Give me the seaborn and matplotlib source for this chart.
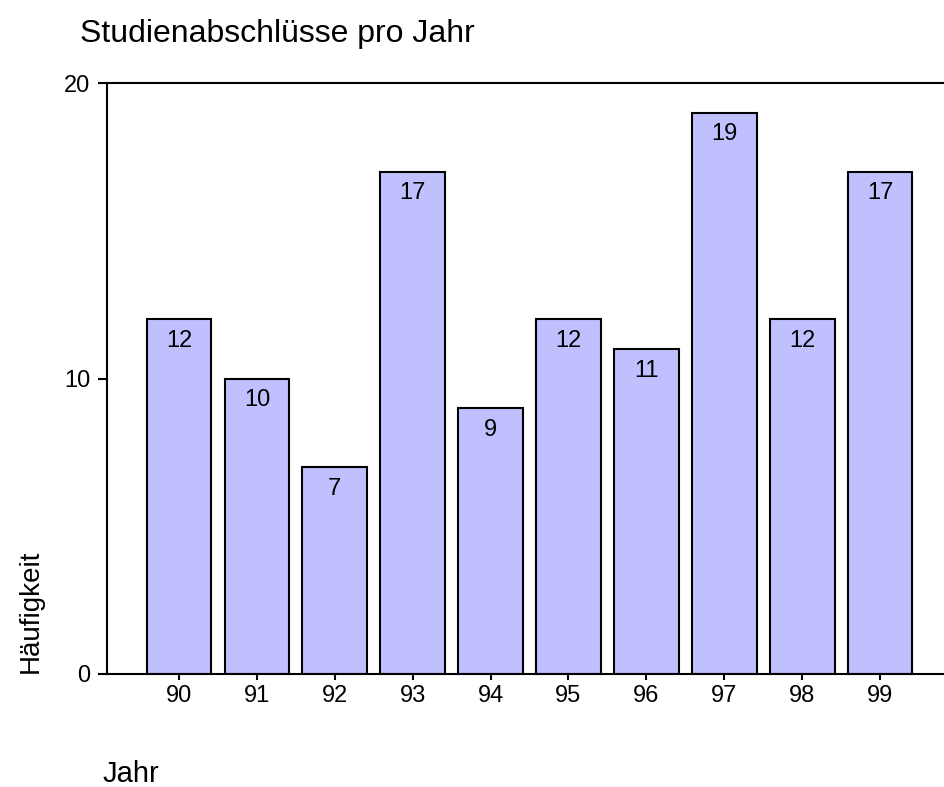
import matplotlib.pyplot as plt
import pandas as pd
import seaborn as sns

# Studienabschlüsse pro Jahr
years = ["90", "91", "92", "93", "94", "95", "96", "97", "98", "99"]
counts = [12, 10, 7, 17, 9, 12, 11, 19, 12, 17]
y_ticks = [0, 10, 20]

df = pd.DataFrame({"Jahr": years, "Häufigkeit": counts})

sns.set_style("white")
plt.rcParams["font.family"] = ["Liberation Sans", "DejaVu Sans"]
plt.rcParams["text.color"] = "black"

fig = plt.figure(figsize=(9.45, 7.87), dpi=100)
ax = fig.add_axes([107 / 945, 113 / 787, 838 / 945, 591 / 787])

sns.barplot(
    data=df,
    x="Jahr",
    y="Häufigkeit",
    color="#c0c0ff",
    saturation=1,
    edgecolor="black",
    linewidth=1.5,
    width=0.83,
    ax=ax,
)

# value labels inside the top of each bar
for bar, v in zip(ax.patches, counts):
    ax.annotate(
        str(v),
        (bar.get_x() + bar.get_width() / 2, bar.get_height()),
        xytext=(0, -20),
        textcoords="offset points",
        ha="center",
        va="baseline",
        fontsize=17,
        color="black",
    )

ax.set_xlim(-0.924, -0.924 + 838 / 77.9)
ax.set_ylim(0, 20)
ax.set_yticks(y_ticks)
ax.set_xlabel("")
ax.set_ylabel("")

for side in ["left", "top", "bottom"]:
    ax.spines[side].set_visible(True)
    ax.spines[side].set_color("black")
    ax.spines[side].set_linewidth(1.5)
ax.spines["right"].set_visible(False)

ax.tick_params(axis="y", direction="out", length=6.5, width=1.5, pad=5.5,
               labelsize=17, left=True, colors="black")
ax.tick_params(axis="x", direction="out", length=4, width=1.5, pad=4,
               labelsize=17, bottom=True, colors="black")

fig.text(80 / 945, 1 - 42 / 787, "Studienabschlüsse pro Jahr",
         fontsize=23, ha="left", va="baseline", color="black")
fig.text(103 / 945, 1 - 782 / 787, "Jahr", fontsize=21, ha="left",
         va="baseline", color="black")
fig.text(31 / 945, 1 - 673 / 787, "Häufigkeit", fontsize=20, rotation=90,
         ha="center", va="bottom", color="black")

fig.savefig("out.png", dpi=100)
